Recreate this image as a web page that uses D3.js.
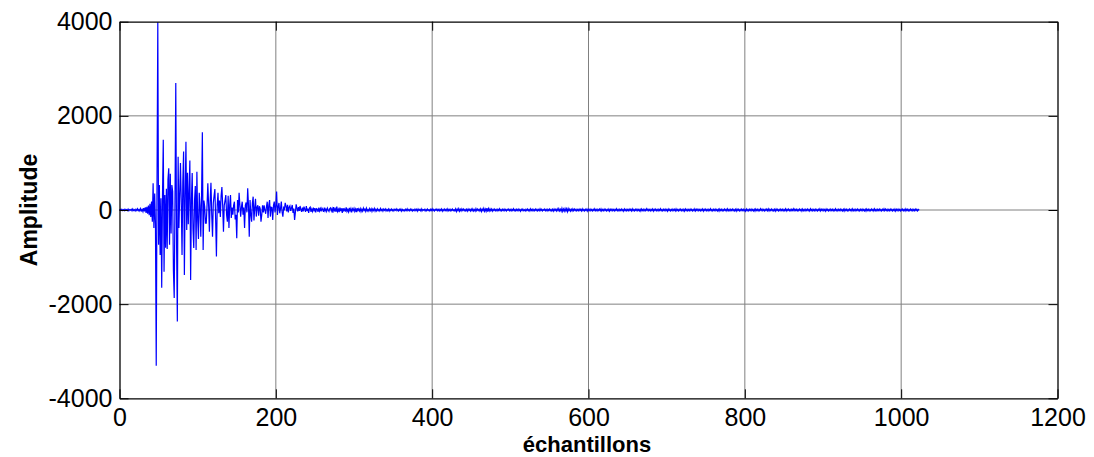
<!DOCTYPE html>
<html><head><meta charset="utf-8">
<script src="https://cdn.jsdelivr.net/npm/d3@7"></script>
<style>html,body{margin:0;padding:0;background:#fff;}svg{display:block;}</style>
</head><body>
<svg id="chart" width="1094" height="457"></svg>
<script>
const xTicks = [0, 200, 400, 600, 800, 1000, 1200];
const yTicks = [-4000, -2000, 0, 2000, 4000];
const xLabel = "échantillons";
const yLabel = "Amplitude";

// samples 0..29 : quiet start
const amplitudeStart = [0,12,-8,15,-10,6,-14,18,-6,10,-12,20,-16,8,-5,14,-18,22,-10,6,-20,16,-12,25,-15,10,-22,30,-18,12];
// samples 30..269 : burst
const amplitudeBurst = [
-35,40,-30,55,-60,70,-80,95,-110,130,
-150,180,-250,570,-380,350,-300,-3310,600,3990,
-740,530,-955,250,-1650,300,1490,-1310,320,-800,
450,-830,650,885,-740,770,-500,530,400,-1300,
-1870,200,2700,-700,-2370,1130,-380,300,1000,200,
-955,600,1240,-1380,300,1450,-425,790,-300,400,
1050,-1486,200,785,-400,-807,200,510,-850,813,
-200,-615,368,100,-566,300,1650,-850,200,70,
-280,-280,100,570,100,-460,200,580,-100,-566,
150,300,445,-200,-990,100,368,-70,200,-150,
300,490,100,-460,100,200,318,-100,-250,300,
-380,100,318,-170,50,-100,100,177,-200,-100,
-600,212,-50,368,100,-140,60,177,-100,50,
-380,100,160,-50,460,100,-566,212,-100,-250,
150,283,-220,50,240,-140,60,100,-120,80,
30,-250,-100,100,-50,100,0,-80,70,177,
-170,100,212,-140,60,50,-212,100,177,-50,
80,390,-106,60,150,-70,30,177,-40,-140,
50,20,150,80,-30,110,-50,60,90,-20,
40,106,-60,30,-212,-50,120,40,-30,60,
-20,85,10,-40,50,-30,70,20,-40,85,
-20,30,-60,40,60,-40,20,-30,50,-10,
40,-50,30,20,-40,50,-20,30,-30,40,
10,-40,50,-20,20,-30,40,0,-30,30
];
// samples 270..1023 : tail
const amplitudeTail = [
45,-20,30,-55,60,-10,25,-40,70,-30,15,-45,50,-25,35,-60,40,-15,20,-35,
55,-30,10,-40,45,-20,30,-50,25,-10,35,-30,20,-45,40,-15,25,-20,30,-35,
15,-25,40,-10,20,-30,35,-20,10,-25,30,-15,25,-30,20,-10,35,-25,15,-20,
25,-15,10,-20,30,-10,15,-25,20,-5,25,-20,10,-15,20,-25,15,-10,20,-15,
10,-20,15,-5,25,-15,10,-20,15,-10,20,-25,10,-15,5,-20,15,-10,25,-15,
10,-15,20,-10,15,-20,5,-15,20,-10,15,-25,20,-10,10,-15,25,-20,10,-5,
15,-20,10,-15,20,-10,5,-20,15,-10,25,-15,10,-20,15,-5,20,-15,10,-20,
15,-10,20,-25,10,-15,20,-10,15,-20,25,-15,10,-20,15,-10,20,-15,5,-20,
25,-30,20,-15,30,-25,15,-20,25,-10,20,-15,10,-20,15,-25,20,-10,15,-20,
20,-15,25,-20,10,-25,30,-15,20,-10,15,-20,25,-30,20,-15,35,-25,20,-30,
40,-35,30,-20,25,-15,20,-25,15,-10,20,-15,10,-20,15,-10,25,-15,10,-20,
15,-10,20,-15,10,-20,15,-5,20,-15,10,-20,15,-10,25,-15,10,-20,15,-10,
20,-15,10,-25,15,-10,20,-15,5,-20,15,-10,20,-15,10,-20,25,-10,15,-20,
10,-15,20,-10,15,-20,10,-15,25,-10,15,-20,10,-5,20,-15,10,-20,15,-10,
20,-15,10,-20,15,-25,20,-10,15,-20,25,-15,30,-20,15,-25,35,-30,20,-25,
30,-20,25,-35,30,-15,20,-25,15,-20,25,-15,20,-10,15,-20,10,-15,20,-10,
15,-20,25,-15,10,-20,15,-10,20,-25,15,-10,20,-15,10,-20,15,-10,25,-15,
10,-20,15,-10,20,-15,25,-20,10,-15,20,-10,15,-20,10,-15,20,-25,15,-10,
20,-15,10,-20,15,-10,25,-15,10,-20,15,-10,20,-15,10,-25,20,-10,15,-20,
10,-15,20,-10,15,-20,25,-15,10,-20,15,-10,20,-15,10,-20,15,-25,20,-10,
15,-20,10,-15,25,-10,20,-15,10,-20,15,-10,20,-25,15,-10,20,-15,10,-20,
15,-10,25,-15,10,-20,15,-10,20,-15,10,-25,20,-10,15,-20,10,-15,20,-10,
15,-20,25,-15,10,-20,15,-10,20,-15,10,-20,15,-25,20,-10,15,-20,10,-15,
20,-10,15,-20,10,-15,25,-20,15,-10,20,-15,10,-20,15,-10,20,-25,15,-10,
20,-15,10,-20,15,-10,25,-15,10,-20,15,-10,20,-15,10,-20,15,-25,20,-10,
15,-20,10,-15,20,-10,15,-20,25,-15,10,-20,15,-10,20,-15,10,-20,15,-25,
20,-10,15,-20,10,-15,20,-10,15,-20,10,-25,20,-15,10,-20,15,-10,20,-15,
10,-20,15,-25,20,-10,15,-20,10,-15,25,-10,20,-15,10,-20,15,-10,20,-15,
25,-20,15,-10,20,-15,10,-20,15,-25,20,-10,15,-20,10,-15,20,-10,15,-20,
10,-15,25,-20,15,-10,20,-15,10,-20,15,-10,25,-15,20,-10,15,-20,10,-15,
20,-10,15,-25,20,-15,10,-20,15,-10,20,-15,10,-20,25,-10,15,-20,10,-15,
20,-15,10,-20,15,-10,25,-20,15,-10,20,-15,10,-25,20,-10,15,-20,10,-15,
20,-10,15,-20,10,-15,25,-15,10,-20,15,-10,20,-15,10,-20,15,-25,20,-10,
15,-20,10,-15,20,-10,15,-20,25,-15,10,-20,15,-10,20,-15,10,-20,15,-10,
20,-15,10,-20,15,-25,20,-10,15,-20,10,-15,20,-10,15,-20,25,-15,10,-20,
15,-10,20,-15,10,-20,15,-10,25,-15,20,-10,15,-20,10,-15,20,-10,15,-20,
10,-15,20,-25,15,-10,20,-15,10,-20,15,-10,20,-15,10,-20,25,-10,15,-20,
10,-15,20,-10,15,-20,10,-15,20,-10,15,-20,10,-5
];
const amplitude = amplitudeStart.concat(amplitudeBurst, amplitudeTail);

const svg = d3.select("#chart");
const L = 119.5, R = 1057.5, T = 21.7, B = 398.3;
const x = d3.scaleLinear().domain([0, 1200]).range([L, R]);
const y = d3.scaleLinear().domain([-4000, 4000]).range([B, T]);
const font = "'Liberation Sans', Arial, Helvetica, sans-serif";

// grid
const g = svg.append("g");
g.selectAll("line.gx").data(xTicks.filter(d => d > 0 && d < 1200)).join("line")
  .attr("x1", d => x(d)).attr("x2", d => x(d)).attr("y1", T).attr("y2", B)
  .attr("stroke", "#808080").attr("stroke-width", 1);
g.selectAll("line.gy").data(yTicks.filter(d => d > -4000 && d < 4000)).join("line")
  .attr("y1", d => y(d)).attr("y2", d => y(d)).attr("x1", L).attr("x2", R)
  .attr("stroke", "#808080").attr("stroke-width", 1);

// signal
const line = d3.line().x((d, i) => x(i)).y(d => y(d));
svg.append("path").datum(amplitude).attr("d", line)
  .attr("fill", "none").attr("stroke", "#0000ff").attr("stroke-width", 1.2);

// axes (box with inward ticks)
const tl = 9;
const fmt = d => String(d);
const xAxisB = d3.axisBottom(x).tickValues(xTicks).tickSize(-tl).tickSizeOuter(0).tickPadding(10).tickFormat(fmt);
const xAxisT = d3.axisTop(x).tickValues(xTicks).tickSize(-tl).tickSizeOuter(0).tickFormat("");
const yAxisL = d3.axisLeft(y).tickValues(yTicks).tickSize(-tl).tickSizeOuter(0).tickPadding(7).tickFormat(fmt);
const yAxisR = d3.axisRight(y).tickValues(yTicks).tickSize(-tl).tickSizeOuter(0).tickFormat("");

function style(sel) {
  sel.select(".domain").attr("stroke", "#000").attr("stroke-width", 1.3);
  sel.selectAll(".tick line").attr("stroke", "#000").attr("stroke-width", 1);
  sel.selectAll(".tick text").attr("font-family", font).attr("font-size", 25).attr("fill", "#000");
}
svg.append("g").attr("transform", `translate(0,${B})`).call(xAxisB).call(style);
svg.append("g").attr("transform", `translate(0,${T})`).call(xAxisT).call(style);
svg.append("g").attr("transform", `translate(${L},0)`).call(yAxisL).call(style);
svg.append("g").attr("transform", `translate(${R},0)`).call(yAxisR).call(style);

// axis labels
svg.append("text").attr("x", 587).attr("y", 451.5).attr("text-anchor", "middle")
  .attr("font-family", font).attr("font-weight", "bold").attr("font-size", 22).text(xLabel);
svg.append("text").attr("transform", `translate(37,${(T + B) / 2}) rotate(-90)`).attr("text-anchor", "middle")
  .attr("font-family", font).attr("font-weight", "bold").attr("font-size", 23).text(yLabel);
</script>
</body></html>
